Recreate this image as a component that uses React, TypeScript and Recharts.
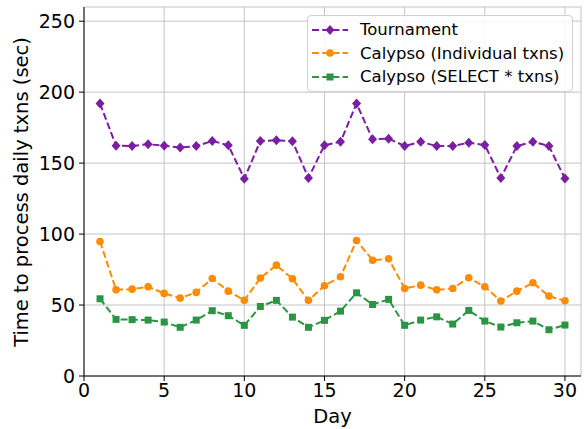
import { LineChart, Line, XAxis, YAxis, CartesianGrid, Legend } from "recharts"

const days = [1, 2, 3, 4, 5, 6, 7, 8, 9, 10, 11, 12, 13, 14, 15, 16, 17, 18, 19, 20, 21, 22, 23, 24, 25, 26, 27, 28, 29, 30]
const tournament = [192, 162.3, 162.1, 163.3, 162.3, 161, 162, 165.6, 162.6, 139, 165.6, 166.1, 165.4, 139.6, 162.6, 165, 192, 166.8, 167.2, 162.1, 165, 162, 162, 164.4, 162.8, 139.6, 162, 165.1, 162, 139.1]
const calypsoIndividual = [94.8, 60.7, 61.2, 62.9, 58.2, 54.9, 58.9, 68.7, 59.8, 53.3, 69, 78.1, 68.5, 53.3, 63.6, 69.9, 95.5, 81.6, 82.6, 61.7, 64, 60.7, 61.7, 69.2, 62.9, 52.8, 59.8, 65.7, 56.3, 53]
const calypsoSelect = [54.4, 39.9, 39.7, 39.4, 38, 34.3, 39.4, 46, 42.5, 35.7, 49, 53.3, 41.5, 34.3, 39.2, 45.7, 58.6, 50.4, 54, 35.7, 39.4, 41.7, 36.6, 46.2, 38.7, 34.5, 37.5, 38.7, 32.6, 35.9]
const xTicks = [0, 5, 10, 15, 20, 25, 30]
const yTicks = [0, 50, 100, 150, 200, 250]

const PURPLE = "#7a1fa2"
const ORANGE = "#ff8c00"
const GREEN = "#2b9544"
const FONT = "DejaVu Sans"

const data = days.map((d, i) => ({
  day: d,
  tournament: tournament[i],
  individual: calypsoIndividual[i],
  select: calypsoSelect[i],
}))

const diamondDot = (props: any) => {
  const { cx, cy, index } = props
  return <path key={`d${index}`} d={`M${cx},${cy - 5} L${cx + 4.5},${cy} L${cx},${cy + 5} L${cx - 4.5},${cy} Z`} fill={PURPLE} />
}
const circleDot = (props: any) => {
  const { cx, cy, index } = props
  return <circle key={`c${index}`} cx={cx} cy={cy} r={3.8} fill={ORANGE} />
}
const squareDot = (props: any) => {
  const { cx, cy, index } = props
  return <rect key={`s${index}`} x={cx - 3.5} y={cy - 3.5} width={7} height={7} fill={GREEN} />
}

const legendItems = [
  { label: "Tournament", color: PURPLE, shape: "diamond" },
  { label: "Calypso (Individual txns)", color: ORANGE, shape: "circle" },
  { label: "Calypso (SELECT * txns)", color: GREEN, shape: "square" },
]

function LegendBox() {
  return (
    <div
      style={{
        border: "1px solid #d0d0d0",
        borderRadius: 4,
        background: "rgba(255,255,255,0.85)",
        padding: "2px 8px 2px 0",
        fontFamily: FONT,
        fontSize: 16.5,
        color: "#000",
        textAlign: "left",
      }}
    >
      {legendItems.map((it) => (
        <div key={it.label} style={{ display: "flex", alignItems: "center", height: 23.5 }}>
          <svg width={36} height={14} style={{ marginLeft: 4, marginRight: 12 }}>
            <line x1={0} y1={7} x2={36} y2={7} stroke={it.color} strokeWidth={2} strokeDasharray="7 3.2" />
            {it.shape === "diamond" && <path d="M18,2 L22.5,7 L18,12 L13.5,7 Z" fill={it.color} />}
            {it.shape === "circle" && <circle cx={18} cy={7} r={3.8} fill={it.color} />}
            {it.shape === "square" && <rect x={14.5} y={3.5} width={7} height={7} fill={it.color} />}
          </svg>
          <span style={{ whiteSpace: "nowrap" }}>{it.label}</span>
        </div>
      ))}
    </div>
  )
}

const tickStyle = { fontFamily: FONT, fontSize: 19, fill: "#000" }
const labelStyle = { fontFamily: FONT, fontSize: 19.5, fill: "#000" }

export default function App() {
  return (
    <div style={{ position: "absolute", left: 0, top: 0, width: 586, height: 429, background: "#fff" }}>
      <LineChart width={586} height={429} data={data} margin={{ top: 7, right: 5, bottom: 0, left: 0 }}>
        <CartesianGrid stroke="#c4c4c4" strokeWidth={1} />
        <XAxis
          dataKey="day"
          type="number"
          domain={[0, 31]}
          ticks={xTicks}
          height={53}
          tickSize={5}
          tickMargin={3}
          stroke="#000"
          tick={tickStyle}
          tickLine={{ stroke: "#000" }}
          label={{
            content: () => (
              <text x={332.5} y={423} textAnchor="middle" style={labelStyle}>
                Day
              </text>
            ),
          }}
        />
        <XAxis xAxisId="top" orientation="top" dataKey="day" type="number" domain={[0, 31]} height={0} tick={false} tickLine={false} stroke="#000" />
        <YAxis
          type="number"
          domain={[0, 260]}
          ticks={yTicks}
          width={84}
          tickSize={5}
          tickMargin={4}
          stroke="#000"
          tick={tickStyle}
          tickLine={{ stroke: "#000" }}
          label={{
            content: () => (
              <text x={28} y={192} transform="rotate(-90 28 192)" textAnchor="middle" style={labelStyle}>
                Time to process daily txns (sec)
              </text>
            ),
          }}
        />
        <YAxis yAxisId="right" orientation="right" type="number" domain={[0, 260]} width={0} tick={false} tickLine={false} stroke="#000" />
        <Legend
          layout="horizontal"
          verticalAlign="middle"
          align="center"
          content={() => <LegendBox />}
          wrapperStyle={{ position: "absolute", left: 307, top: 15, width: "auto", height: "auto" }}
        />
        <Line dataKey="tournament" stroke={PURPLE} strokeWidth={2} strokeDasharray="7 3.2" dot={diamondDot} isAnimationActive={false} />
        <Line dataKey="individual" stroke={ORANGE} strokeWidth={2} strokeDasharray="7 3.2" dot={circleDot} isAnimationActive={false} />
        <Line dataKey="select" stroke={GREEN} strokeWidth={2} strokeDasharray="7 3.2" dot={squareDot} isAnimationActive={false} />
      </LineChart>
    </div>
  )
}
